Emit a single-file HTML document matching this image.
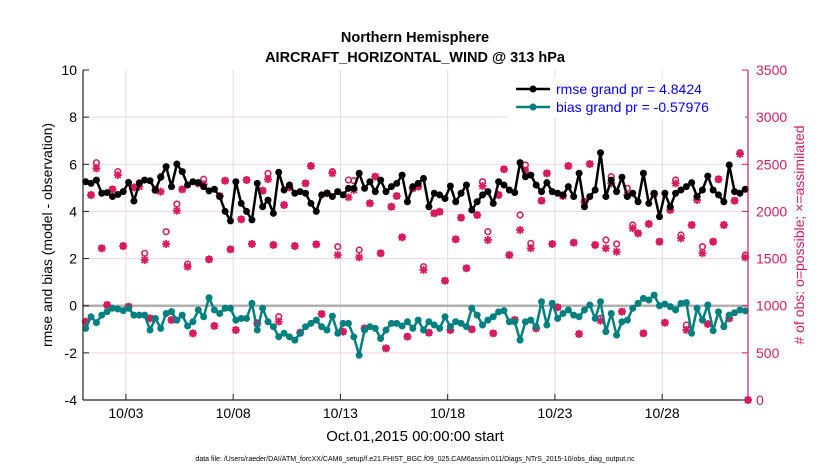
<!DOCTYPE html>
<html><head><meta charset="utf-8"><style>
body{margin:0;background:#fff;}
svg text{font-family:"Liberation Sans",Arial,sans-serif;}
</style></head><body>
<svg id="chart" width="830" height="470" viewBox="0 0 830 470" xmlns="http://www.w3.org/2000/svg">
<rect width="830" height="470" fill="#fff"/>
<text x="415" y="42" text-anchor="middle" font-size="14.5" font-weight="bold">Northern Hemisphere</text>
<text x="415" y="62" text-anchor="middle" font-size="14.5" font-weight="bold">AIRCRAFT_HORIZONTAL_WIND @ 313 hPa</text>
<g id="grid"></g>
<g id="marks"></g>
<g id="axes"></g>
<text transform="translate(52,235) rotate(-90)" text-anchor="middle" font-size="14">rmse and bias (model - observation)</text>
<text transform="translate(804,235) rotate(-90)" text-anchor="middle" font-size="14" fill="#d81b60">#  of obs: o=possible; ×=assimilated</text>
<text x="415" y="441" text-anchor="middle" font-size="15">Oct.01,2015 00:00:00 start</text>
<text x="415" y="461" text-anchor="middle" font-size="7">data file: /Users/raeder/DAI/ATM_forcXX/CAM6_setup/f.e21.FHIST_BGC.f09_025.CAM6assim.011/Diags_NTrS_2015-10/obs_diag_output.nc</text>
<g>
<rect x="508" y="78" width="237" height="40" fill="#fff"/>
<line x1="516" y1="89" x2="550" y2="89" stroke="#000" stroke-width="2.5"/>
<circle cx="533" cy="89" r="3.5" fill="#000"/>
<text x="556" y="94" font-size="14" fill="#0000ff">rmse grand pr = 4.8424</text>
<line x1="516" y1="107" x2="550" y2="107" stroke="#008080" stroke-width="2.5"/>
<circle cx="533" cy="107" r="3.5" fill="#008080"/>
<text x="556" y="112" font-size="14" fill="#0000ff">bias grand pr = -0.57976</text>
</g>
</svg>
<script>
const rmse=[5.26,5.19,5.33,4.77,4.8,4.63,4.72,4.84,5.23,4.44,5.19,5.33,5.3,4.91,5.45,5.9,5.05,6.01,5.69,5.12,5.26,5.22,5.05,4.87,4.94,4.63,4.0,3.6,5.26,4.34,4.0,3.64,
5.19,4.2,4.48,3.92,5.66,4.91,5.12,4.77,4.84,4.77,4.34,4.0,4.7,4.77,4.63,4.84,4.7,4.98,4.98,5.62,4.98,5.26,4.84,5.33,4.84,5.05,5.19,5.54,4.41,5.05,5.19,
5.4,4.2,4.77,4.7,4.55,5.08,4.41,4.77,5.12,4.06,4.41,4.7,4.84,4.34,5.26,5.12,4.91,4.8,6.07,5.47,5.54,5.12,4.84,5.22,4.84,4.77,4.7,5.05,4.63,5.62,
4.2,4.63,4.91,6.49,4.63,5.33,4.84,5.45,4.63,4.77,4.41,5.62,4.34,4.77,3.78,4.77,4.2,4.77,4.91,5.05,5.22,4.63,4.91,5.5,4.91,4.7,4.41,5.97,4.84,4.77,4.94];
const bias=[-0.96,-0.47,-0.72,-0.40,-0.25,-0.11,-0.14,-0.21,-0.11,-0.40,-0.40,-0.40,-1.03,-0.54,-0.96,-0.33,-0.25,-0.61,-0.40,-0.86,-0.68,-0.18,-0.47,0.34,-0.18,-0.33,-0.11,-0.11,-0.61,-0.54,-0.54,0.10,
-1.03,-0.11,-0.68,-0.89,-1.32,-1.17,-1.32,-1.46,-1.17,-0.89,-0.75,-0.61,-0.89,-1.03,-0.44,-1.17,-0.75,-0.75,-1.32,-2.1,-1.03,-0.89,-0.96,-1.39,-1.03,-0.75,-0.75,-0.86,-0.68,-0.96,-0.61,
-1.03,-0.68,-0.82,-0.96,-0.47,-0.89,-0.68,-0.75,-0.89,-0.11,-0.4,-0.82,-0.61,-0.47,-0.26,-0.21,-0.68,-0.68,-1.46,-0.68,-0.61,-0.89,0.17,-0.82,0.1,-0.54,-0.33,-0.18,-0.40,-0.47,
-0.18,0.03,-0.54,0.17,-1.1,-0.33,-1.25,-0.68,-0.61,-0.11,0.1,0.31,0.24,0.45,0.0,0.07,-0.04,-0.18,0.1,0.13,-1.17,-0.11,-0.61,0.03,-1.06,-0.26,-0.89,-0.4,-0.3,-0.18,-0.22];
const assimilated=[831,2174,2457,1609,1008,2234,2386,1633,990,2255,2263,1485,866,2227,2210,1655,849,2008,2234,1414,707,2298,2288,1492,785,2164,2326,1598,742,1916,2333,1655,
813,2220,2341,1644,831,2068,2255,1633,714,2298,2482,1651,912,2192,2404,1538,725,2150,2227,1513,760,2086,2369,1556,548,2050,2164,1726,672,2245,2263,
1379,714,1980,1997,1265,742,1704,1934,1397,749,1962,2270,1697,707,2174,2447,1538,849,1803,2432,1609,760,2114,2404,1655,983,2164,2482,1669,700,
2103,2503,1644,841,1609,2298,1573,937,2174,1821,1768,707,1867,2185,1679,820,2015,2298,1715,742,1856,2121,1556,806,1679,2341,1856,866,2114,2609,1513,0];
const possible=[831,2174,2517,1609,1008,2234,2422,1633,990,2255,2305,1556,866,2227,2369,1785,849,2079,2234,1442,707,2298,2341,1492,785,2164,2326,1598,742,1916,2333,1655,
813,2220,2404,1644,884,2068,2255,1633,714,2298,2482,1651,912,2192,2422,1626,725,2333,2326,1591,760,2086,2369,1556,548,2050,2164,1726,672,2245,2263,
1414,714,1980,1997,1265,742,1704,1934,1397,749,1962,2315,1785,707,2174,2447,1538,849,1962,2492,1662,760,2114,2404,1655,983,2164,2482,1669,700,
2103,2503,1644,866,1697,2369,1655,937,2245,1856,1768,707,1867,2185,1679,820,2015,2333,1750,795,1856,2157,1626,806,1679,2341,1856,866,2114,2623,1538,0];
const xTickLabels=["10/03","10/08","10/13","10/18","10/23","10/28"];
const xTickDays=[2,7,12,17,22,27];
const yLeftTicks=[-4,-2,0,2,4,6,8,10];
const yRightTicks=[0,500,1000,1500,2000,2500,3000,3500];

const NS="http://www.w3.org/2000/svg";
const X0=83,X1=748,Y0=400,Y1=70,DAYS=31;
const xDay=d=>X0+(X1-X0)*d/DAYS;
const xIdx=i=>xDay(0.125+i*0.25);
const yL=v=>Y0-(v+4)/14*(Y0-Y1);
const yR=v=>Y0-v/3500*(Y0-Y1);
const MAG="#d81b60",TEAL="#008080";
function mk(tag,attrs,parent){const e=document.createElementNS(NS,tag);for(const k in attrs)e.setAttribute(k,attrs[k]);parent.appendChild(e);return e;}
const grid=document.getElementById('grid'),marks=document.getElementById('marks'),axes=document.getElementById('axes');

yLeftTicks.forEach(v=>{if(v===0||v===-4||v===10)return;
 const l=mk('line',{x1:X0,x2:X1,y1:yL(v),y2:yL(v),stroke:'#f5d3df','stroke-width':1},grid);
 
 });
xTickDays.forEach(d=>{const l=mk('line',{x1:xDay(d),x2:xDay(d),y1:Y1,y2:Y0,stroke:'#dcdcdc','stroke-width':1},grid);
 
 });
const zl=mk('line',{x1:X0,x2:X1,y1:yL(0),y2:yL(0),stroke:'#b0b0b0','stroke-width':2.5},grid);



function obsMarks(arr,kind){arr.forEach((v,i)=>{const x=i===arr.length-1&&v===0?X1:xIdx(i);const y=yR(v);
 if(kind==='o'){const c=mk('circle',{cx:x,cy:y,r:2.8,fill:'none',stroke:MAG,'stroke-width':1.6},marks);
  
  }
 else{const g=mk('g',{stroke:MAG,'stroke-width':1.8},marks);
  
  
  const s=4;mk('line',{x1:x-s,x2:x+s,y1:y,y2:y},g);mk('line',{x1:x,x2:x,y1:y-s,y2:y+s},g);
  mk('line',{x1:x-3,x2:x+3,y1:y-3,y2:y+3},g);mk('line',{x1:x-3,x2:x+3,y1:y+3,y2:y-3},g);}
});}
obsMarks(possible,'o');obsMarks(assimilated,'*');

function series(arr,color,name){const pts=arr.map((v,i)=>xIdx(i)+','+yL(v)).join(' ');
 const p=mk('polyline',{points:pts,fill:'none',stroke:color,'stroke-width':2.5,'stroke-linejoin':'round'},marks);
 
 
 arr.forEach((v,i)=>{const c=mk('circle',{cx:xIdx(i),cy:yL(v),r:3.5,fill:color},marks);
  
  });}
series(rmse,'#000','rmse');series(bias,TEAL,'bias');

const la=mk('line',{x1:X0,x2:X0,y1:Y1,y2:Y0,stroke:'#222','stroke-width':1.2},axes);


const ba=mk('line',{x1:X0,x2:X1,y1:Y0,y2:Y0,stroke:'#222','stroke-width':1.2},axes);


const ra=mk('line',{x1:X1,x2:X1,y1:Y1,y2:Y0,stroke:MAG,'stroke-width':1.2},axes);


yLeftTicks.forEach(v=>{mk('line',{x1:X0,x2:X0+6,y1:yL(v),y2:yL(v),stroke:'#222'},axes);
 const t=mk('text',{x:X0-6,y:yL(v)+5,'text-anchor':'end','font-size':14},axes);t.textContent=v;
 
 });
yRightTicks.forEach(v=>{mk('line',{x1:X1-6,x2:X1,y1:yR(v),y2:yR(v),stroke:MAG},axes);
 const t=mk('text',{x:X1+8,y:yR(v)+5,'font-size':14,fill:MAG},axes);t.textContent=v;
 
 });
xTickDays.forEach((d,i)=>{mk('line',{x1:xDay(d),x2:xDay(d),y1:Y0,y2:Y0-6,stroke:'#222'},axes);
 const t=mk('text',{x:xDay(d),y:Y0+18,'text-anchor':'middle','font-size':14},axes);t.textContent=xTickLabels[i];
 
 });
</script>
</body></html>
